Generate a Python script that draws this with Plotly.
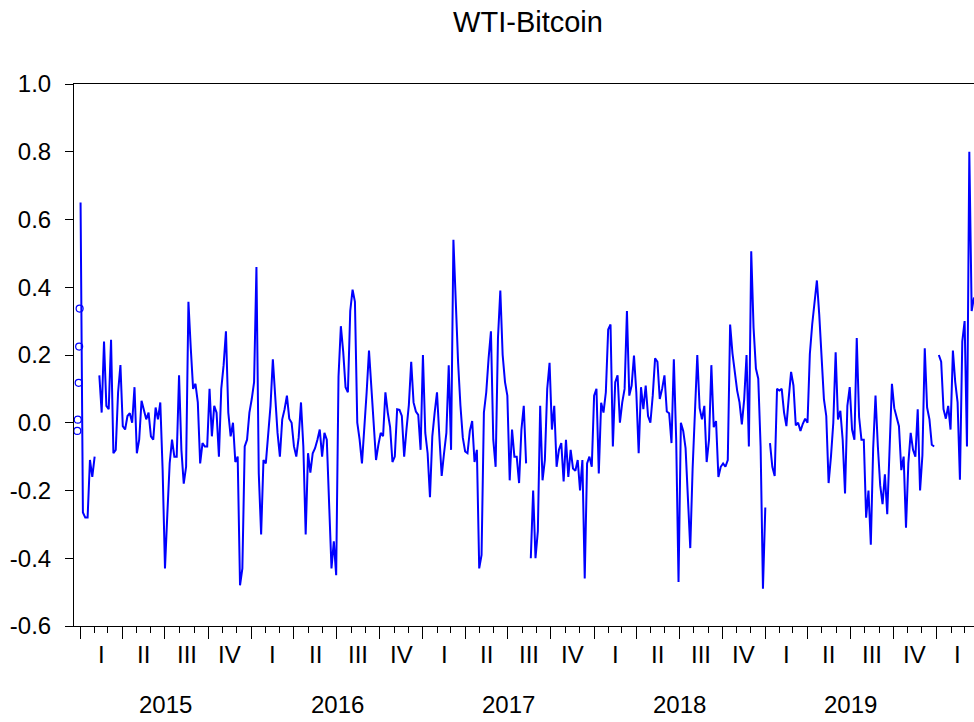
import plotly.graph_objects as go
import pandas as pd

# ---------------- data ----------------
start_date = "2015-01-02"
step = "5D"
corr_values = [
    0.65, -0.265, -0.28, -0.28, -0.11, -0.16, -0.10, None, 0.14, 0.03,
    0.24, 0.05, 0.04, 0.245, -0.09, -0.08, 0.09, 0.17, -0.01, -0.02,
    0.02, 0.028, 0.0, 0.105, -0.09, -0.05, 0.065, 0.04, 0.01, 0.03,
    -0.04, -0.05, 0.045, 0.01, 0.06, -0.14, -0.43, -0.27, -0.12, -0.05,
    -0.10, -0.10, 0.14, -0.08, -0.18, -0.13, 0.357, 0.22, 0.10, 0.115,
    0.06, -0.12, -0.06, -0.07, -0.07, 0.10, -0.04, 0.05, 0.03, -0.10,
    0.10, 0.17, 0.27, 0.03, -0.04, 0.0, -0.116, -0.10, -0.48, -0.43,
    -0.07, -0.05, 0.03, 0.07, 0.12, 0.46, -0.15, -0.33, -0.11, -0.12,
    -0.025, 0.05, 0.187, 0.06, -0.03, -0.10, 0.01, 0.04, 0.08, 0.012,
    0.0, -0.07, -0.10, -0.044, 0.06, -0.07, -0.33, -0.09, -0.147, -0.09,
    -0.075, -0.05, -0.02, -0.10, -0.03, -0.05, -0.22, -0.43, -0.35, -0.45,
    0.136, 0.285, 0.21, 0.105, 0.09, 0.33, 0.393, 0.357, 0.0, -0.05,
    -0.12, -0.02, 0.09, 0.213, 0.105, 0.012, -0.11, -0.065, -0.03, -0.04,
    0.09, 0.03, -0.013, -0.116, -0.10, 0.04, 0.038, 0.02, -0.10, -0.018,
    0.053, 0.18, 0.06, 0.033, 0.023, -0.08, 0.20, -0.03, -0.09, -0.22,
    -0.04, 0.03, 0.09, -0.04, -0.157, -0.09, -0.03, 0.17, -0.08, 0.54,
    0.35, 0.177, 0.05, -0.044, -0.085, -0.09, -0.024, 0.005, -0.116, -0.08,
    -0.43, -0.39, 0.03, 0.09, 0.19, 0.27, -0.05, -0.13, 0.25, 0.39,
    0.2, 0.12, 0.08, -0.17, -0.02, -0.10, -0.1, -0.178, -0.02, 0.05,
    -0.12, None, -0.40, -0.2, -0.40, -0.32, 0.05, -0.17, -0.11, 0.1,
    0.177, -0.02, 0.05, -0.13, -0.08, -0.06, -0.173, -0.05, -0.16, -0.08,
    -0.135, -0.142, -0.11, -0.2, -0.11, -0.46, -0.12, -0.10, -0.13, 0.08,
    0.1, -0.15, 0.059, 0.03, 0.09, 0.275, 0.29, -0.07, 0.12, 0.14,
    0.0, 0.06, 0.1, 0.33, 0.08, 0.11, 0.198, 0.09, -0.09, 0.105,
    0.04, 0.11, 0.02, 0.0, 0.08, 0.19, 0.18, 0.07, 0.1, 0.14,
    0.033, 0.028, -0.06, 0.187, -0.05, -0.47, 0.0, -0.024, -0.075, -0.25,
    -0.37, -0.137, 0.059, 0.2, 0.043, 0.01, 0.05, -0.116, -0.05, 0.17,
    -0.013, 0.005, -0.16, -0.13, -0.12, -0.13, -0.11, 0.29, 0.205, 0.14,
    0.095, 0.06, -0.005, 0.069, 0.2, -0.07, 0.506, 0.28, 0.16, 0.13,
    -0.07, -0.49, -0.25, None, -0.06, -0.13, -0.157, 0.1, 0.095, 0.1,
    0.03, -0.01, 0.074, 0.15, 0.11, -0.008, 0.0, -0.024, -0.003, 0.012,
    0.0, 0.203, 0.29, 0.347, 0.42, 0.32, 0.198, 0.07, 0.02, -0.178,
    -0.10, 0.0, 0.208, 0.01, 0.035, -0.05, -0.209, 0.05, 0.105, -0.02,
    -0.05, 0.25, 0.017, -0.05, -0.05, -0.28, -0.2, -0.36, -0.075, 0.08,
    -0.07, -0.185, -0.24, -0.152, -0.27, -0.085, 0.115, 0.043, 0.015, -0.01,
    -0.14, -0.1, -0.31, -0.12, -0.03, -0.08, -0.10, 0.04, -0.2, -0.096,
    0.22, 0.045, 0.01, -0.065, -0.07, None, 0.2, 0.18, 0.04, 0.012,
    0.05, -0.02, 0.213, 0.12, 0.06, -0.168, 0.24, 0.3, -0.07, 0.80,
    0.33, 0.37,
]

# isolated observations (drawn as circles, as EViews does)
isolated_dates = ["2014-12-26", "2014-12-27", "2014-12-29", "2014-12-30", "2014-12-31"]
isolated_values = [-0.024, 0.009, 0.118, 0.225, 0.337]

x_range = ["2014-12-19", "2020-03-21"]
y_ticks = [-0.6, -0.4, -0.2, 0.0, 0.2, 0.4, 0.6, 0.8, 1.0]
y_tick_labels = ["-0.6", "-0.4", "-0.2", "0.0", "0.2", "0.4", "0.6", "0.8", "1.0"]
quarter_names = ["I", "II", "III", "IV"]
years = [2015, 2016, 2017, 2018, 2019]
title_text = "WTI-Bitcoin"

# ---------------- figure ----------------
dates = pd.date_range(start_date, periods=len(corr_values), freq=step)

FONT = "Liberation Sans, Arial, sans-serif"
fig = go.Figure()
fig.add_trace(go.Scatter(
    x=dates, y=corr_values, mode="lines",
    line=dict(color="#0000FF", width=2),
    connectgaps=False, hoverinfo="skip", showlegend=False,
))
fig.add_trace(go.Scatter(
    x=pd.to_datetime(isolated_dates), y=isolated_values, mode="markers",
    marker=dict(symbol="circle-open", size=7, color="#0000FF", line=dict(width=1.2)),
    hoverinfo="skip", showlegend=False,
))

quarter_starts = pd.date_range("2015-01-01", "2020-03-01", freq="QS")
annotations = []
for qs in quarter_starts:
    mid = qs + (qs + pd.offsets.QuarterBegin(startingMonth=1) - qs) / 2
    annotations.append(dict(
        x=mid, y=0, xref="x", yref="paper", yshift=-28,
        text=quarter_names[(qs.month - 1) // 3], showarrow=False,
        font=dict(family=FONT, size=24, color="black"),
        xanchor="center", yanchor="middle",
    ))
for yr in years:
    annotations.append(dict(
        x=pd.Timestamp(f"{yr}-07-02"), y=0, xref="x", yref="paper", yshift=-78,
        text=str(yr), showarrow=False,
        font=dict(family=FONT, size=24, color="black"),
        xanchor="center", yanchor="middle",
    ))

fig.update_layout(
    width=974, height=722,
    margin=dict(l=74, r=0, t=84, b=96, autoexpand=False),
    paper_bgcolor="white", plot_bgcolor="white",
    title=dict(text=title_text, x=528 / 974, xref="container", xanchor="center",
               y=1 - 22 / 722, yref="container", yanchor="middle",
               font=dict(family=FONT, size=29, color="black")),
    annotations=annotations,
)
fig.update_xaxes(
    range=x_range, type="date", automargin=False,
    tickmode="array", tickvals=list(quarter_starts), ticktext=[""] * len(quarter_starts),
    ticks="outside", ticklen=12, tickwidth=1, tickcolor="black",
    minor=dict(dtick="M1", tick0="2015-01-01", ticks="outside", ticklen=6,
               tickwidth=1, tickcolor="black", showgrid=False),
    showgrid=False, zeroline=False,
    showline=True, linecolor="black", linewidth=1, mirror=True,
)
fig.update_yaxes(
    range=[-0.6, 1.0], tickmode="array", tickvals=y_ticks, ticktext=y_tick_labels,
    automargin=False,
    ticks="outside", ticklen=8, tickwidth=1, tickcolor="black",
    tickfont=dict(family=FONT, size=24, color="black"), ticklabelstandoff=9,
    showgrid=False, zeroline=False,
    showline=True, linecolor="black", linewidth=1, mirror=True,
)

fig.write_html(
    "out.html",
    config=dict(displayModeBar=False, staticPlot=True),
    post_script="document.body.style.margin='0';document.body.style.overflow='hidden';",
)
